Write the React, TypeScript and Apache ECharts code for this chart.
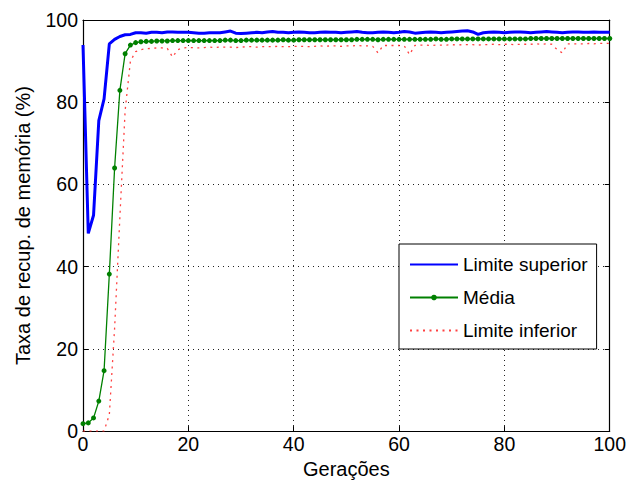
import React, { useEffect, useRef } from "react";
import * as echarts from "echarts";

// Generation index 0..100
const generations: number[] = Array.from({ length: 101 }, (_, i) => i);

// Upper bound of the memory recovery rate (%)
const upperBound: number[] = [
  93.9, 48.1, 52.5, 75.5, 80.8, 94.2, 95.3, 96.0, 96.4, 96.5,
  96.9, 96.9, 96.8, 97.0, 97.0, 96.9, 97.1, 97.1, 97.0, 97.0,
  97.0, 96.9, 96.8, 96.8, 96.9, 96.9, 96.9, 97.1, 97.3, 96.8,
  96.7, 96.8, 96.9, 97.0, 96.9, 97.1, 97.2, 97.0, 97.0, 96.9,
  97.0, 97.1, 97.0, 96.9, 96.9, 97.0, 97.1, 97.0, 97.0, 96.9,
  97.0, 97.1, 97.2, 97.0, 96.9, 96.9, 97.0, 97.1, 97.0, 96.9,
  97.0, 97.2, 97.1, 96.8, 96.9, 97.0, 97.1, 97.0, 96.9, 97.0,
  97.1, 97.2, 97.3, 97.4, 97.1, 96.5, 96.9, 97.0, 97.1, 97.0,
  96.9, 97.0, 97.1, 97.1, 97.0, 96.9, 97.0, 97.1, 97.2, 97.1,
  97.0, 96.9, 97.0, 97.1, 97.1, 97.0, 97.0, 97.1, 97.0, 97.0,
  97.0,
];

// Mean memory recovery rate (%)
const meanRate: number[] = [
  1.8, 2.0, 3.2, 7.3, 14.7, 38.2, 64.0, 82.9, 91.8, 93.9,
  94.5, 94.7, 94.8, 94.8, 94.9, 94.9, 94.9, 95.0, 95.0, 95.0,
  95.0, 95.0, 95.0, 95.0, 95.0, 95.0, 95.0, 95.1, 95.1, 95.0,
  95.0, 95.1, 95.1, 95.1, 95.1, 95.1, 95.1, 95.1, 95.2, 95.1,
  95.1, 95.2, 95.2, 95.2, 95.2, 95.2, 95.2, 95.2, 95.2, 95.2,
  95.2, 95.2, 95.3, 95.3, 95.3, 95.3, 95.2, 95.3, 95.3, 95.3,
  95.3, 95.3, 95.3, 95.3, 95.3, 95.3, 95.3, 95.4, 95.3, 95.3,
  95.4, 95.4, 95.4, 95.4, 95.4, 95.4, 95.4, 95.4, 95.4, 95.4,
  95.4, 95.4, 95.4, 95.4, 95.4, 95.5, 95.5, 95.5, 95.5, 95.5,
  95.5, 95.5, 95.5, 95.5, 95.5, 95.5, 95.5, 95.5, 95.5, 95.5,
  95.5,
];

// Lower bound of the memory recovery rate (%)
const lowerBound: number[] = [
  0, 0, 0, 0, 0, 4, 25, 52, 78, 90,
  92.3, 92.8, 93.0, 93.1, 93.2, 93.2, 93.1, 91.0, 92.8, 93.2,
  93.3, 93.3, 93.2, 93.3, 93.4, 93.3, 93.4, 93.4, 93.4, 93.3,
  93.4, 93.5, 93.5, 93.4, 93.5, 93.5, 93.5, 93.6, 93.5, 93.5,
  93.6, 93.6, 93.6, 93.5, 93.6, 93.7, 93.6, 93.7, 93.7, 93.6,
  93.7, 93.7, 93.8, 93.7, 93.7, 93.6, 92.0, 93.8, 93.8, 93.8,
  93.8, 93.7, 91.6, 93.8, 93.9, 93.9, 93.8, 93.9, 93.9, 93.9,
  94.0, 93.9, 94.0, 94.0, 94.0, 93.9, 94.0, 94.0, 94.1, 94.0,
  94.1, 94.1, 94.0, 94.1, 94.1, 94.1, 94.2, 94.1, 94.2, 94.1,
  92.8, 92.0, 94.2, 94.2, 94.2, 94.2, 94.3, 94.2, 94.3, 94.3,
  94.3,
];

const xTicks = { min: 0, max: 100, interval: 20 };
const yTicks = { min: 0, max: 100, interval: 20 };

const FONT = "'Liberation Sans', Arial, sans-serif";

const pairs = (ys: number[]) => generations.map((g, i) => [g, ys[i]]);

export default function App() {
  const ref = useRef<HTMLDivElement>(null);

  useEffect(() => {
    if (!ref.current) return;
    const chart = echarts.init(ref.current, undefined, { renderer: "svg" });

    const gridLine = {
      show: true,
      lineStyle: { color: "#222", width: 1, type: [1, 4] as number[] },
    };
    const frameAxis = {
      axisLine: { show: true, onZero: false, lineStyle: { color: "#000", width: 1.2 } },
      axisTick: { show: true, inside: true, length: 5, lineStyle: { color: "#000" } },
    };

    chart.setOption({
      animation: false,
      backgroundColor: "#fff",
      textStyle: { fontFamily: FONT },
      grid: { left: 83, right: 17, top: 20, bottom: 51.5, containLabel: false },
      xAxis: [
        {
          type: "value",
          ...xTicks,
          position: "bottom",
          name: "Gerações",
          nameLocation: "middle",
          nameGap: 24,
          nameTextStyle: { fontSize: 20, color: "#000", fontFamily: FONT },
          axisLabel: { fontSize: 19.5, color: "#000", margin: 3, fontFamily: FONT },
          splitLine: gridLine,
          ...frameAxis,
        },
        {
          type: "value",
          ...xTicks,
          position: "top",
          axisLabel: { show: false },
          splitLine: { show: false },
          ...frameAxis,
        },
      ],
      yAxis: [
        {
          type: "value",
          ...yTicks,
          position: "left",
          name: "Taxa de recup. de memória (%)",
          nameLocation: "middle",
          nameGap: 50,
          nameTextStyle: { fontSize: 20, color: "#000", fontFamily: FONT },
          axisLabel: { fontSize: 19.5, color: "#000", margin: 5, fontFamily: FONT },
          splitLine: gridLine,
          ...frameAxis,
        },
        {
          type: "value",
          ...yTicks,
          position: "right",
          axisLabel: { show: false },
          splitLine: { show: false },
          ...frameAxis,
        },
      ],
      legend: {
        orient: "vertical",
        left: 399,
        top: 244,
        padding: [11, 9, 9, 10],
        itemGap: 14,
        itemWidth: 48,
        itemHeight: 7,
        backgroundColor: "#fff",
        borderColor: "#000",
        borderWidth: 1,
        textStyle: { fontSize: 19, color: "#000", fontFamily: FONT, lineHeight: 19 },
        data: [
          { name: "Limite superior", itemStyle: { opacity: 0 } },
          { name: "Média" },
          { name: "Limite inferior", itemStyle: { opacity: 0 } },
        ],
      },
      series: [
        {
          name: "Limite superior",
          type: "line",
          data: pairs(upperBound),
          symbol: "none",
          lineStyle: { color: "#0000ff", width: 3 },
          itemStyle: { color: "#0000ff" },
          z: 3,
        },
        {
          name: "Média",
          type: "line",
          data: pairs(meanRate),
          symbol: "circle",
          symbolSize: 5,
          lineStyle: { color: "#008000", width: 1.3 },
          itemStyle: { color: "#008000" },
          z: 4,
        },
        {
          name: "Limite inferior",
          type: "line",
          data: pairs(lowerBound),
          symbol: "none",
          lineStyle: { color: "#ff2020", width: 1.3, type: [2, 4.5], opacity: 0.85 },
          itemStyle: { color: "#ff2020" },
          z: 2,
        },
      ],
    });

    return () => chart.dispose();
  }, []);

  return (
    <div
      ref={ref}
      style={{ position: "absolute", left: 0, top: 0, width: 629, height: 484 }}
    />
  );
}
